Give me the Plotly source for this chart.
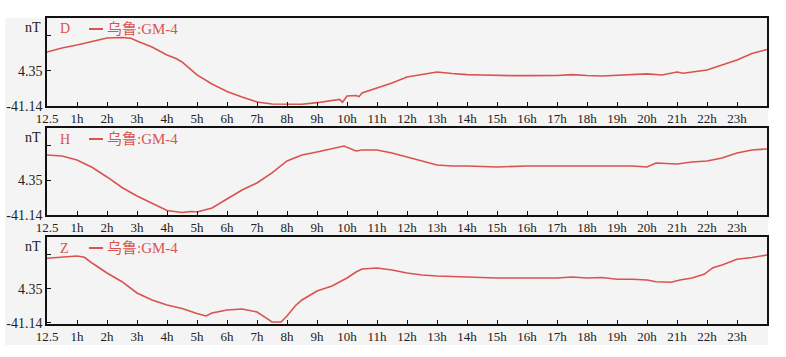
import plotly.graph_objects as go

# ---- data ----
hours_D = [0, 0.5, 1, 1.5, 2, 2.5, 2.8, 3, 3.5, 4, 4.3, 4.5, 5, 5.5, 6, 6.5, 7, 7.5, 8, 8.5,
           9, 9.5, 9.75, 9.85, 10, 10.3, 10.4, 10.5, 11, 11.5, 12, 12.5, 13, 13.5, 14, 14.5,
           15, 15.5, 16, 16.5, 17, 17.5, 17.7, 18, 18.5, 19, 19.5, 20, 20.5, 21, 21.2, 21.5,
           22, 22.5, 23, 23.5, 24]
values_D = [29.0, 34.2, 38.1, 42.7, 47.3, 47.9, 47.0, 43.4, 35.6, 25.2, 20.5, 16.1, -0.8, -12.5,
            -22.3, -29.4, -35.9, -38.5, -38.9, -38.9, -36.8, -33.3, -32.5, -36.2, -28.1, -27.5,
            -29.0, -24.2, -17.7, -11.2, -3.4, -0.2, 3.1, 1.1, -0.4, -0.8, -1.7, -1.7, -1.7, -1.7,
            -1.5, -0.4, -1.2, -1.5, -2.1, -1.5, -0.8, 0.6, -0.8, 3.1, 1.5, 3.1, 5.7, 12.2, 18.7,
            27.1, 32.3]

hours_H = [0, 0.5, 1, 1.5, 2, 2.5, 3, 3.5, 4, 4.5, 4.8, 5, 5.5, 6, 6.5, 7, 7.5, 8, 8.5, 9,
           9.5, 9.9, 10.3, 10.5, 11, 11.5, 12, 12.5, 13, 13.5, 14, 15, 16, 17, 18, 19, 19.5,
           20, 20.3, 21, 21.5, 22, 22.5, 23, 23.5, 24]
values_H = [36.9, 35.6, 30.4, 20.9, 8.3, -5.4, -16.4, -25.5, -35.3, -37.9, -36.5, -37.2, -32.0,
            -20.3, -8.6, 0.5, 13.5, 29.1, 36.9, 40.8, 44.7, 48.6, 42.1, 43.4, 43.4, 39.5, 34.3,
            29.1, 23.9, 22.6, 22.6, 21.3, 22.6, 22.6, 22.6, 22.6, 22.6, 21.3, 26.5, 25.2, 27.8,
            29.1, 33.0, 39.5, 43.4, 44.7]

hours_Z = [0, 0.5, 1, 1.25, 1.5, 2, 2.5, 3, 3.5, 4, 4.5, 5, 5.3, 5.5, 6, 6.5, 7, 7.3, 7.5, 7.8,
           8, 8.3, 8.5, 9, 9.5, 10, 10.3, 10.5, 11, 11.5, 12, 12.5, 13, 14, 15, 16, 17, 17.5,
           18, 18.5, 19, 19.5, 20, 20.3, 20.8, 21.1, 21.5, 21.9, 22.2, 22.5, 23, 23.5, 24]
values_Z = [45.4, 47.2, 48.5, 46.8, 39.1, 25.8, 14.1, -1.0, -10.4, -17.1, -21.7, -28.4, -31.8,
            -27.8, -23.7, -22.4, -26.4, -34.4, -39.8, -39.8, -31.8, -17.1, -10.4, 1.7, 8.4, 19.1,
            27.1, 31.1, 32.4, 29.8, 25.8, 23.1, 21.8, 20.4, 19.1, 19.1, 19.1, 20.4, 19.1, 19.7,
            17.3, 17.3, 16.4, 14.1, 13.3, 16.4, 19.1, 24.0, 32.9, 36.5, 44.1, 46.5, 49.8]

components = ["D", "H", "Z"]
station = "乌鲁:GM-4"
unit = "nT"
tick_hours = list(range(24))
tick_labels = ["12.5"] + [f"{h}h" for h in range(1, 24)]
y_tick_vals = [-41.14, 4.35, 49.84]
y_tick_text = ["-41.14", "4.35", ""]

# ---- styling / layout ----
LINE = "#d9534f"
BG = "#f4f4f4"
SERIF = "Liberation Serif, Noto Sans CJK SC, serif"
PLOT_H = 306.0
PLOT_W = 720.0

series = [(hours_D, values_D), (hours_H, values_H), (hours_Z, values_Z)]
domains = [[0.7124, 1.0], [0.3562, 0.6405], [0.0, 0.2843]]
yranges = [[-41.14, 73.2], [-41.14, 71.95], [-42.5, 73.9]]

fig = go.Figure()
annotations = []
shapes = [dict(type="rect", xref="paper", yref="paper", x0=-42.0 / PLOT_W, x1=1.0014,
               y0=-0.0686, y1=1.0, fillcolor=BG, line=dict(width=0), layer="below")]
for i, ((hx, hy), dom, yr, comp) in enumerate(zip(series, domains, yranges, components)):
    n = "" if i == 0 else str(i + 1)
    fig.add_trace(go.Scatter(x=hx, y=hy, mode="lines", xaxis="x" + n, yaxis="y" + n,
                             line=dict(color=LINE, width=1.6), showlegend=False,
                             hoverinfo="skip"))
    fig.update_layout(**{
        "xaxis" + n: dict(domain=[0, 1], anchor="y" + n, range=[0, 24], automargin=False,
                          tickvals=tick_hours, ticktext=tick_labels, ticks="inside",
                          ticklen=4, tickcolor="#111", showline=True, linecolor="#111",
                          linewidth=1.5, mirror=True, showgrid=False, zeroline=False,
                          tickfont=dict(family=SERIF, size=13, color="#222")),
        "yaxis" + n: dict(domain=dom, anchor="x" + n, range=yr, automargin=False,
                          tickvals=y_tick_vals, ticktext=y_tick_text, ticks="inside",
                          ticklen=4, tickcolor="#111", showline=True, linecolor="#111",
                          linewidth=1.5, mirror=True, showgrid=False, zeroline=False,
                          tickfont=dict(family=SERIF, size=14, color="#222")),
    })
    ytop = dom[1]
    leg_y = ytop - 11.0 / PLOT_H
    annotations.append(dict(text=unit, xref="paper", yref="paper", x=0, y=ytop,
                            xanchor="right", yanchor="middle", xshift=-4, yshift=-9,
                            showarrow=False, font=dict(family=SERIF, size=14, color="#222")))
    annotations.append(dict(text=comp, xref="paper", yref="paper", x=0.0153, y=leg_y,
                            xanchor="left", yanchor="middle", showarrow=False,
                            font=dict(family=SERIF, size=14, color=LINE)))
    annotations.append(dict(text=station, xref="paper", yref="paper", x=0.0806,
                            y=leg_y, xanchor="left", yanchor="middle",
                            showarrow=False, font=dict(family=SERIF, size=15, color=LINE)))
    shapes.append(dict(type="line", xref="paper", yref="paper", x0=0.0583, x1=0.0778,
                       y0=leg_y, y1=leg_y, line=dict(color=LINE, width=2)))

fig.update_layout(
    width=786, height=357,
    margin=dict(l=47, r=19, t=18, b=33),
    paper_bgcolor="white", plot_bgcolor=BG,
    annotations=annotations,
    shapes=shapes,
)

# remove the default page margin so the figure sits at the window's top-left corner
fig.write_html("out.html", config={"displayModeBar": False},
               post_script="document.body.style.margin='0';")
